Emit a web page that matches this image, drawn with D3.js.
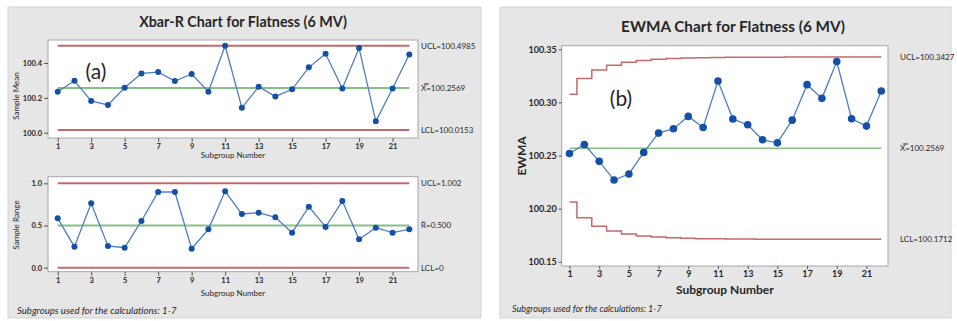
<!DOCTYPE html>
<html>
<head>
<meta charset="utf-8">
<script src="https://cdn.jsdelivr.net/npm/d3@7"></script>
<style>
  html, body { margin: 0; padding: 0; background: #ffffff; }
  svg { display: block; }
  text { font-family: Lato, "Open Sans", sans-serif; fill: #262626; }
</style>
</head>
<body>
<svg id="chart" width="957" height="321"></svg>
<script>
// ---------------- DATA ----------------
const subgroups = [1,2,3,4,5,6,7,8,9,10,11,12,13,14,15,16,17,18,19,20,21,22];
const xTickValues = [1,3,5,7,9,11,13,15,17,19,21];

const sampleMeans = [100.235,100.298,100.182,100.159,100.258,100.340,100.348,100.296,100.337,100.235,
                     100.499,100.143,100.264,100.208,100.249,100.375,100.453,100.254,100.486,100.065,
                     100.254,100.449];
const meanUCL = 100.4985, meanCL = 100.2569, meanLCL = 100.0153;
const meanTicks = [100.0, 100.2, 100.4];

const sampleRanges = [0.585,0.249,0.763,0.257,0.237,0.553,0.897,0.897,0.225,0.455,
                      0.905,0.636,0.652,0.597,0.415,0.723,0.482,0.790,0.336,0.474,
                      0.415,0.455];
const rangeUCL = 1.002, rangeCL = 0.500, rangeLCL = 0;
const rangeTicks = [0.0, 0.5, 1.0];

const ewmaValues = [100.2519,100.2604,100.2445,100.2269,100.2326,100.2529,100.2711,100.2752,100.2868,100.2764,
                    100.3201,100.2843,100.2789,100.2648,100.2619,100.2833,100.3167,100.3038,100.3384,100.2846,
                    100.2777,100.3107];
const ewmaUCL = [100.3076,100.3224,100.3304,100.3350,100.3378,100.3395,100.3406,100.3413,100.3418,100.3421,
                 100.3423,100.3424,100.3425,100.3426,100.3426,100.3427,100.3427,100.3427,100.3427,100.3427,
                 100.3427,100.3427];
const ewmaLCL = [100.2062,100.1914,100.1834,100.1788,100.1760,100.1743,100.1732,100.1725,100.1720,100.1717,
                 100.1715,100.1714,100.1713,100.1712,100.1712,100.1712,100.1712,100.1712,100.1712,100.1712,
                 100.1712,100.1712];
const ewmaCL = 100.2569;
const ewmaTicks = [100.15, 100.20, 100.25, 100.30, 100.35];

// ---------------- STYLE ----------------
const C = {
  panel: "#e6e6e6", panelStroke: "#d4d4d4", frame: "#a6a6a6",
  limit: "#c46a6a", center: "#86c086", line: "#4f7fc0", dot: "#1550a8"
};

const svg = d3.select("#chart");

// panels
svg.append("rect").attr("x", 8).attr("y", 7).attr("width", 473).attr("height", 311)
  .attr("fill", C.panel).attr("stroke", C.panelStroke);
svg.append("rect").attr("x", 500).attr("y", 7).attr("width", 451).attr("height", 311)
  .attr("fill", C.panel).attr("stroke", C.panelStroke);

function drawChart(o) {
  const g = svg.append("g");
  const x = d3.scaleLinear().domain([1, 22]).range(o.xr);
  const y = d3.scaleLinear().domain(o.yd).range(o.yr);
  // frame
  g.append("rect").attr("x", o.frame[0]).attr("y", o.frame[1])
    .attr("width", o.frame[2] - o.frame[0]).attr("height", o.frame[3] - o.frame[1])
    .attr("fill", "#ffffff").attr("stroke", C.frame).attr("stroke-width", 1);

  // axes
  const ax = g.append("g").attr("transform", `translate(${o.frame[0]},0)`)
    .call(d3.axisLeft(y).tickValues(o.yTicks).tickFormat(d3.format(o.yFmt)).tickSize(o.tick).tickPadding(2));
  ax.select(".domain").remove();
  ax.selectAll("line").attr("stroke", "#555");
  ax.selectAll("text").style("font-size", o.tickFont + "px").style("font-weight", "bold").attr("fill", "#333");

  const bx = g.append("g").attr("transform", `translate(0,${o.frame[3]})`)
    .call(d3.axisBottom(x).tickValues(xTickValues).tickFormat(d3.format("d")).tickSize(o.tick).tickPadding(2));
  bx.select(".domain").remove();
  bx.selectAll("line").attr("stroke", "#555");
  bx.selectAll("text").style("font-size", o.tickFont + "px").style("font-weight", "bold").attr("fill", "#333");

  // limit lines
  const x0 = x(1), x1 = x(22);
  if (o.ucl.length) {
    const stepLine = d3.line().x((d, i) => x(subgroups[i])).y(d => y(d)).curve(d3.curveStep);
    g.append("path").attr("d", stepLine(o.ucl)).attr("fill", "none").attr("stroke", C.limit).attr("stroke-width", o.limW);
    g.append("path").attr("d", stepLine(o.lcl)).attr("fill", "none").attr("stroke", C.limit).attr("stroke-width", o.limW);
  } else {
    [o.uclV, o.lclV].forEach(v => g.append("line").attr("x1", x0).attr("x2", x1)
      .attr("y1", y(v)).attr("y2", y(v)).attr("stroke", C.limit).attr("stroke-width", o.limW));
  }
  g.append("line").attr("x1", x0).attr("x2", x1).attr("y1", y(o.cl)).attr("y2", y(o.cl))
    .attr("stroke", C.center).attr("stroke-width", o.limW);

  // data
  const ln = d3.line().x((d, i) => x(subgroups[i])).y(d => y(d));
  g.append("path").attr("d", ln(o.values)).attr("fill", "none").attr("stroke", C.line).attr("stroke-width", 1.3);
  g.selectAll("circle.pt").data(o.values).join("circle").attr("class", "pt")
    .attr("cx", (d, i) => x(subgroups[i])).attr("cy", d => y(d)).attr("r", o.r).attr("fill", C.dot);

  // right labels
  o.labels.forEach(l => {
    g.append("text").attr("x", o.frame[2] + o.labDx).attr("y", y(l.v)).attr("dy", "0.35em")
      .style("font-size", o.labFont + "px").text(l.t);
  });

  // x axis title
  g.append("text").attr("x", (o.frame[0] + o.frame[2]) / 2).attr("y", o.xTitleY)
    .attr("text-anchor", "middle").style("font-size", o.xTitleFont + "px")
    .style("font-weight", o.xTitleWeight).text("Subgroup Number");
  // y axis title
  g.append("text").attr("transform", `translate(${o.yTitleX},${o.yTitleY}) rotate(-90)`)
    .attr("text-anchor", "middle").style("font-size", o.yTitleFont + "px")
    .style("font-weight", o.yTitleWeight).text(o.yTitle);
  return {x, y};
}

// Xbar chart
drawChart({
  xr: [57.7, 409.3], yd: [100.0, 100.4], yr: [132.7, 63.0], frame: [48, 40, 418, 138],
  yTicks: meanTicks, yFmt: ".1f", tick: 4, tickFont: 7.5,
  ucl: [], uclV: meanUCL, lclV: meanLCL, cl: meanCL, limW: 2,
  values: sampleMeans, r: 3,
  labels: [{v: meanUCL, t: "UCL=100.4985"}, {v: meanCL, t: "X\u033F=100.2569"}, {v: meanLCL, t: "LCL=100.0153"}],
  labDx: 3, labFont: 8,
  xTitleY: 158, xTitleFont: 8, xTitleWeight: "normal",
  yTitleX: 19, yTitleY: 96, yTitle: "Sample Mean", yTitleFont: 8, yTitleWeight: "normal"
});
// R chart
drawChart({
  xr: [57.7, 409.3], yd: [0, 1], yr: [267.7, 183.3], frame: [48, 176.7, 418, 271.7],
  yTicks: rangeTicks, yFmt: ".1f", tick: 4, tickFont: 7.5,
  ucl: [], uclV: rangeUCL, lclV: rangeLCL, cl: rangeCL, limW: 2,
  values: sampleRanges, r: 3,
  labels: [{v: rangeUCL, t: "UCL=1.002"}, {v: rangeCL, t: "R\u0304=0.500"}, {v: rangeLCL, t: "LCL=0"}],
  labDx: 3, labFont: 8,
  xTitleY: 296, xTitleFont: 8, xTitleWeight: "normal",
  yTitleX: 19, yTitleY: 225, yTitle: "Sample Range", yTitleFont: 8, yTitleWeight: "normal"
});
// EWMA chart
drawChart({
  xr: [569.5, 881.3], yd: [100.15, 100.35], yr: [261.7, 49.3], frame: [561.7, 45.7, 888, 266],
  yTicks: ewmaTicks, yFmt: ".2f", tick: 3, tickFont: 9,
  ucl: ewmaUCL, lcl: ewmaLCL, cl: ewmaCL, limW: 1.5,
  values: ewmaValues, r: 3.8,
  labels: [{v: ewmaUCL[21], t: "UCL=100.3427"}, {v: ewmaCL, t: "X\u033F=100.2569"}, {v: ewmaLCL[21], t: "LCL=100.1712"}],
  labDx: 12, labFont: 8,
  xTitleY: 294, xTitleFont: 12, xTitleWeight: "bold",
  yTitleX: 526, yTitleY: 156, yTitle: "EWMA", yTitleFont: 12, yTitleWeight: "bold"
});

// titles
svg.append("text").attr("x", 243).attr("y", 27).attr("text-anchor", "middle")
  .style("font-size", "14.3px").style("font-weight", "bold").text("Xbar-R Chart for Flatness (6 MV)");
svg.append("text").attr("x", 733).attr("y", 32).attr("text-anchor", "middle")
  .style("font-size", "15.3px").style("font-weight", "bold").text("EWMA Chart for Flatness (6 MV)");

// annotations
svg.append("text").attr("x", 96).attr("y", 79).attr("text-anchor", "middle")
  .style("font-size", "21px").text("(a)");
svg.append("text").attr("x", 621).attr("y", 106).attr("text-anchor", "middle")
  .style("font-size", "21px").text("(b)");

// footnotes
svg.append("text").attr("x", 17).attr("y", 314).style("font-size", "9.6px").style("font-style", "italic")
  .text("Subgroups used for the calculations: 1-7");
svg.append("text").attr("x", 512).attr("y", 312).style("font-size", "9px").style("font-style", "italic")
  .text("Subgroups used for the calculations: 1-7");
</script>
</body>
</html>
